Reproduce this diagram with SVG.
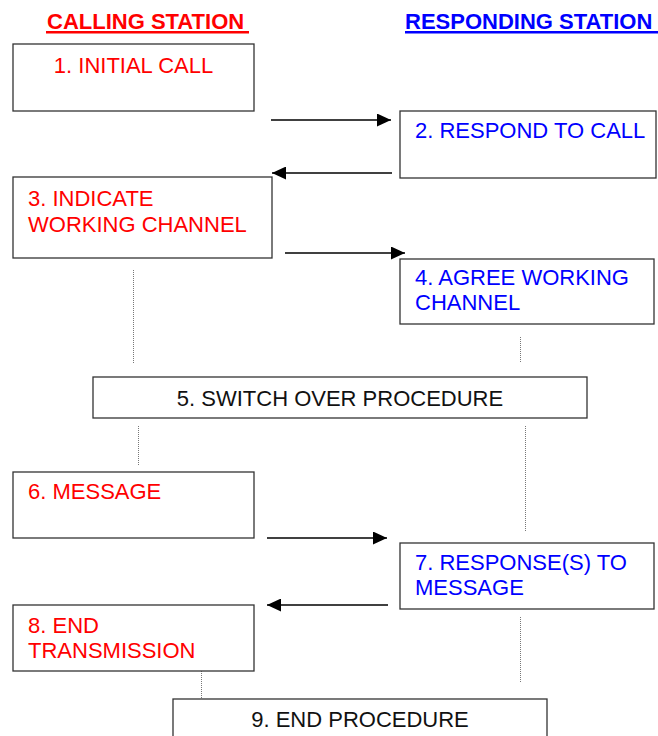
<svg xmlns="http://www.w3.org/2000/svg" width="658" height="736" viewBox="0 0 658 736">
<style>
text{font-family:"Liberation Sans",Arial,sans-serif;font-size:22px}
.hdr{font-weight:bold}
.red{fill:#f00}
.blue{fill:#00f}
.blk{fill:#111}
.box{fill:#fff;stroke:#333;stroke-width:1.3}
.arr{stroke:#000;stroke-width:1.3;fill:none;marker-end:url(#ah)}
.dot{stroke:#777;stroke-width:1;stroke-dasharray:1 1;fill:none}
</style>
<defs>
<marker id="ah" viewBox="0 0 14 13" refX="14" refY="6.5" markerWidth="14" markerHeight="13" markerUnits="userSpaceOnUse" orient="auto">
<path d="M0,0 L14,6.5 L0,13 Z" fill="#000"/>
</marker>
</defs>
<g id="headers">
<text class="hdr red" x="47" y="29">CALLING STATION</text>
<rect x="46" y="31" width="203" height="2.5" fill="#f00"/>
<text class="hdr blue" x="405" y="29">RESPONDING STATION</text>
<rect x="405" y="31" width="253" height="2.5" fill="#00f"/>
</g>
<g id="connectors">
<line class="arr" x1="271" y1="120" x2="391" y2="120"/>
<line class="arr" x1="392" y1="173" x2="272" y2="173"/>
<line class="arr" x1="285" y1="253" x2="405" y2="253"/>
<line class="arr" x1="267" y1="538" x2="387" y2="538"/>
<line class="arr" x1="388" y1="605" x2="267" y2="605"/>
<line class="dot" x1="133.5" y1="270" x2="133.5" y2="363"/>
<line class="dot" x1="520.5" y1="337" x2="520.5" y2="363"/>
<line class="dot" x1="138.5" y1="426" x2="138.5" y2="466"/>
<line class="dot" x1="525.5" y1="426" x2="525.5" y2="532"/>
<line class="dot" x1="201.5" y1="671" x2="201.5" y2="698"/>
<line class="dot" x1="520.5" y1="617" x2="520.5" y2="683"/>
</g>
<g id="n1">
<rect class="box" x="13" y="44" width="241" height="67"/>
<text class="red" x="133.5" y="73" text-anchor="middle">1. INITIAL CALL</text>
</g>
<g id="n2">
<rect class="box" x="400" y="111" width="256" height="67"/>
<text class="blue" x="415" y="138">2. RESPOND TO CALL</text>
</g>
<g id="n3">
<rect class="box" x="13" y="177" width="259" height="81"/>
<text class="red" x="28" y="206">3. INDICATE</text>
<text class="red" x="28" y="232">WORKING CHANNEL</text>
</g>
<g id="n4">
<rect class="box" x="400" y="259" width="254" height="65"/>
<text class="blue" x="415" y="285">4. AGREE WORKING</text>
<text class="blue" x="415" y="310">CHANNEL</text>
</g>
<g id="n5">
<rect class="box" x="93" y="377" width="494" height="41"/>
<text class="blk" x="340" y="406" text-anchor="middle">5. SWITCH OVER PROCEDURE</text>
</g>
<g id="n6">
<rect class="box" x="13" y="472" width="241" height="66"/>
<text class="red" x="28" y="499">6. MESSAGE</text>
</g>
<g id="n7">
<rect class="box" x="400" y="543" width="254" height="66"/>
<text class="blue" x="415" y="570">7. RESPONSE(S) TO</text>
<text class="blue" x="415" y="595">MESSAGE</text>
</g>
<g id="n8">
<rect class="box" x="13" y="605" width="241" height="66"/>
<text class="red" x="28" y="633">8. END</text>
<text class="red" x="28" y="658">TRANSMISSION</text>
</g>
<g id="n9">
<rect class="box" x="173" y="699" width="374" height="45"/>
<text class="blk" x="360" y="727" text-anchor="middle">9. END PROCEDURE</text>
</g>
</svg>
